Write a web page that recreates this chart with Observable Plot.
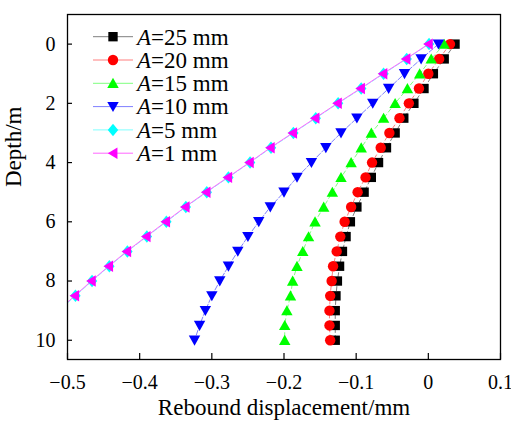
<!DOCTYPE html>
<html><head><meta charset="utf-8">
<script src="https://cdn.jsdelivr.net/npm/d3@7"></script>
<script src="https://cdn.jsdelivr.net/npm/@observablehq/plot@0.6"></script>
<style>body{margin:0;background:#fff} #chart{position:relative;width:511px;height:421px}</style>
</head><body><div id="chart"></div>
<script>
// ---- data ----
const depth = [0,0.5,1,1.5,2,2.5,3,3.5,4,4.5,5,5.5,6,6.5,7,7.5,8,8.5,9,9.5,10];
const A25 = [0.037,0.022,0.007,-0.006,-0.020,-0.034,-0.046,-0.058,-0.069,-0.079,-0.089,-0.099,-0.108,-0.114,-0.119,-0.123,-0.126,-0.128,-0.129,-0.129,-0.129];
const A20 = [0.030,0.015,0.000,-0.013,-0.027,-0.040,-0.054,-0.066,-0.078,-0.087,-0.098,-0.107,-0.116,-0.122,-0.127,-0.132,-0.134,-0.136,-0.137,-0.137,-0.136];
const A15 = [0.022,0.004,-0.012,-0.029,-0.046,-0.062,-0.079,-0.093,-0.107,-0.121,-0.133,-0.145,-0.157,-0.166,-0.174,-0.182,-0.188,-0.191,-0.196,-0.199,-0.199];
const A10 = [0.014,-0.010,-0.033,-0.055,-0.077,-0.099,-0.121,-0.142,-0.162,-0.182,-0.200,-0.219,-0.235,-0.250,-0.264,-0.277,-0.289,-0.300,-0.309,-0.317,-0.324];
const A5  = [0.001,-0.030,-0.062,-0.093,-0.125,-0.156,-0.187,-0.218,-0.247,-0.277,-0.307,-0.336,-0.363,-0.390,-0.417,-0.442,-0.466,-0.489,-0.512];
const A1  = [0.000,-0.031,-0.063,-0.094,-0.126,-0.157,-0.188,-0.219,-0.248,-0.278,-0.308,-0.337,-0.364,-0.391,-0.418,-0.443,-0.467,-0.490,-0.513];
const seriesNames = ["25","20","15","10","5","1"];
const xTicks = [-0.5,-0.4,-0.3,-0.2,-0.1,0,0.1];
const yTicks = [0,2,4,6,8,10];
const xLabel = "Rebound displacement/mm";
const yLabel = "Depth/m";

// ---- symbols ----
function poly(pts){return {draw(ctx,size){const r=Math.sqrt(size/Math.PI);ctx.moveTo(pts[0][0]*r,pts[0][1]*r);for(let i=1;i<pts.length;i++)ctx.lineTo(pts[i][0]*r,pts[i][1]*r);ctx.closePath();}};}
const symSquare = poly([[-0.9,-0.9],[0.9,-0.9],[0.9,0.9],[-0.9,0.9]]);
const symCircle = d3.symbolCircle;
const symUp = poly([[0,-1.05],[1.1,0.9],[-1.1,0.9]]);
const symDown = poly([[0,1.05],[1.1,-0.9],[-1.1,-0.9]]);
const symDiamond = poly([[0,-1.2],[1.0,0],[0,1.2],[-1.0,0]]);
const symLeft = poly([[-1.0,0],[0.85,-1.1],[0.85,1.1]]);

const styles = [
  {vals:A25, fill:"#000000", line:"#7f7f7f", dash:"4,3", sym:symSquare, r:5.2},
  {vals:A20, fill:"#ff0000", line:"#ff7f7f", dash:"4,3", sym:symCircle, r:5.2},
  {vals:A15, fill:"#00ff00", line:"#7fff7f", dash:"4,3", sym:symUp, r:5.2},
  {vals:A10, fill:"#0000ff", line:"#7f7fff", dash:"5,2", sym:symDown, r:5.2},
  {vals:A5,  fill:"#00ffff", line:"#7fffff", dash:"5,2", sym:symDiamond, r:5.2},
  {vals:A1,  fill:"#ff00ff", line:"#ff66ff", dash:null, sym:symLeft, r:5.2}
];

const marks = [];
styles.forEach((s,k)=>{
  const rows = s.vals.map((v,i)=>({x:v, y:depth[i], A:seriesNames[k]}));
  marks.push(Plot.line(rows,{x:"x",y:"y",stroke:s.line,strokeWidth:1,strokeDasharray:s.dash||undefined,clip:true}));
  marks.push(Plot.dot(rows,{x:"x",y:"y",symbol:s.sym,fill:s.fill,stroke:"none",r:s.r,clip:true}));
});

const fmtX = v => v===0 ? "0" : d3.format(".1f")(v);
const frameH = 421-14-62, frameW = 511-67-11;

const plot = Plot.plot({
  width:511, height:421,
  marginLeft:67, marginRight:11, marginTop:14, marginBottom:62,
  style:{fontFamily:"'Liberation Serif', 'Times New Roman', serif", fontSize:"20px", color:"#000", background:"#fff"},
  x:{domain:[-0.5,0.1]},
  y:{domain:[-1,10.65], reverse:true},
  marks:[
    ...marks,
    Plot.ruleX(xTicks,{x:d=>d, insetTop:frameH-6, stroke:"#000", strokeWidth:1.2}),
    Plot.ruleY(yTicks,{y:d=>d, insetRight:frameW-5, stroke:"#000", strokeWidth:1.2}),
    Plot.frame({stroke:"#000", strokeWidth:1.3}),
    Plot.axisX({ticks:xTicks, tickFormat:fmtX, tickSize:0, tickPadding:15, label:null, fontSize:20}),
    Plot.axisY({ticks:yTicks, tickFormat:d=>String(d), tickSize:0, tickPadding:12, label:null, fontSize:20}),
    Plot.text([xLabel],{frameAnchor:"bottom", text:d=>d, dy:55, lineAnchor:"bottom", fontSize:23}),
    Plot.text([yLabel],{frameAnchor:"left", text:d=>d, dx:-47, rotate:-90, lineAnchor:"bottom", fontSize:23})
  ]
});
document.getElementById("chart").appendChild(plot);

// ---- legend ----
const legendLabels = seriesNames.map(n=>n+" mm");
const svg = d3.select(plot);
const lg = svg.append("g").attr("font-family","'Liberation Serif', 'Times New Roman', serif").attr("font-size",23).attr("text-anchor","start");
styles.forEach((s,k)=>{
  const y = 36.7 + k*23.3;
  const g = lg.append("g").attr("transform",`translate(0,${y})`);
  g.append("line").attr("x1",93).attr("x2",133).attr("y1",0).attr("y2",0).attr("stroke",s.line).attr("stroke-width",1);
  const p = d3.path(); s.sym.draw(p, Math.PI*s.r*s.r);
  g.append("path").attr("d",p.toString()).attr("transform","translate(113,0)").attr("fill",s.fill);
  const t = g.append("text").attr("x",137).attr("y",0).attr("dy","0.34em").attr("fill","#000").attr("text-anchor","start");
  t.append("tspan").attr("font-style","italic").text("A");
  t.append("tspan").text("="+legendLabels[k]);
});
</script>
</body></html>
